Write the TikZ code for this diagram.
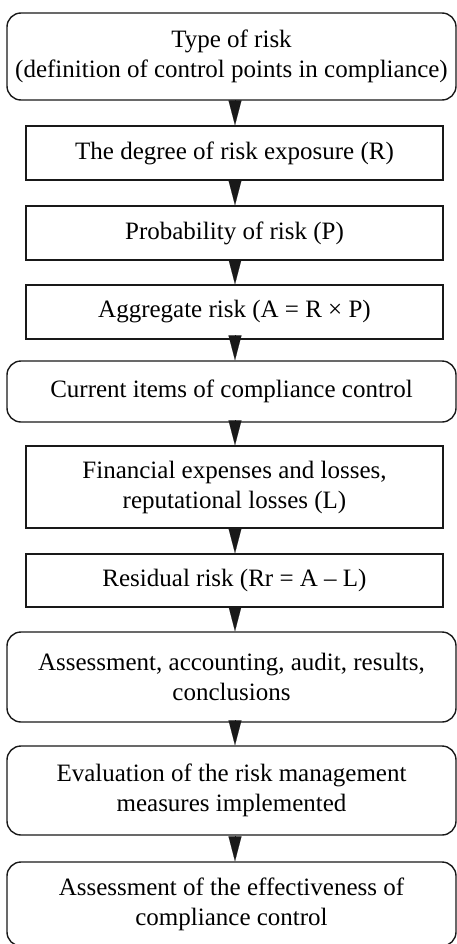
\documentclass[tikz,border=0pt]{standalone}
\usepackage{fontspec}
\setmainfont{Liberation Serif}
\usetikzlibrary{arrows.meta}
\tikzset{
  base/.style={draw=black!90, line width=1.4bp, align=center, inner sep=0pt,
    font=\fontsize{25bp}{30bp}\selectfont},
  wide/.style={base, rounded corners=14bp, minimum width=449bp},
  narrow/.style={base, minimum width=417bp},
  flow/.style={line width=0.1bp, -{Triangle[width=13bp,length=25bp]}, black!90},
}
\begin{document}
\begin{tikzpicture}[x=1bp,y=-1bp]
\useasboundingbox (0,0) rectangle (457,944);
\node[wide, minimum height=87bp]   (b1)  at (231.5,56.5) {Type of risk\\(definition of control points in compliance)};
\node[narrow, minimum height=54bp] (b2)  at (234.5,153)  {The degree of risk exposure (R)};
\node[narrow, minimum height=54bp] (b3)  at (234.5,233)  {Probability of risk (P)};
\node[narrow, minimum height=54bp] (b4)  at (234.5,312)  {Aggregate risk (A = R × P)};
\node[wide, minimum height=61bp]   (b5)  at (231.5,391.5){Current items of compliance control};
\node[narrow, minimum height=82bp] (b6)  at (234.5,487)  {Financial expenses and losses,\\reputational losses (L)};
\node[narrow, minimum height=53bp] (b7)  at (234.5,580.5){Residual risk (Rr = A – L)};
\node[wide, minimum height=90bp]   (b8)  at (231.5,677)  {Assessment, accounting, audit, results,\\conclusions};
\node[wide, minimum height=89bp]   (b9)  at (231.5,790.5){Evaluation of the risk management\\measures implemented};
\node[wide, minimum height=84bp]   (b10) at (231.5,904)  {Assessment of the effectiveness of\\compliance control};
\coordinate (ax) at (235,0);
\foreach \a/\b in {b1/b2,b2/b3,b3/b4,b4/b5,b5/b6,b6/b7,b7/b8,b8/b9,b9/b10}
  \draw[flow] (\a.south -| ax) -- (\b.north -| ax);
\end{tikzpicture}
\end{document}
